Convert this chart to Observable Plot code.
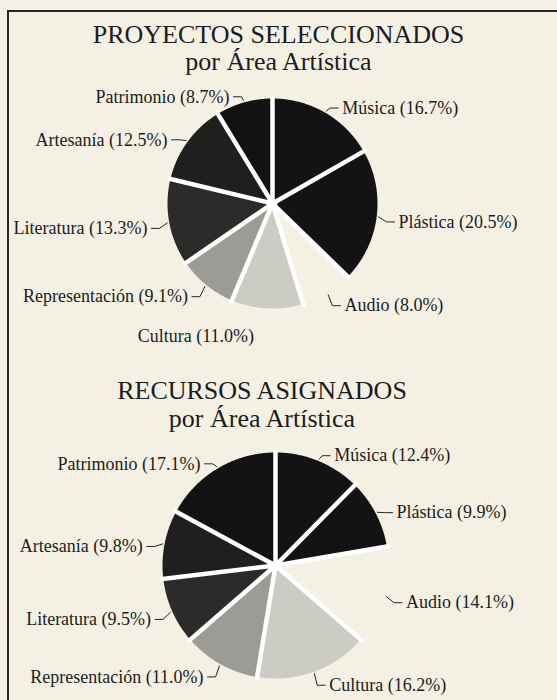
<!DOCTYPE html>
<html>
<head>
<meta charset="utf-8">
<script src="https://cdn.jsdelivr.net/npm/d3@7"></script>
<script src="https://cdn.jsdelivr.net/npm/@observablehq/plot@0.6"></script>
<style>
  html, body { margin: 0; padding: 0; background: #f4f1e4; }
  body { width: 557px; height: 700px; position: relative; overflow: hidden; font-family: "Liberation Serif", serif; }
  #frame { position: absolute; left: 7px; top: 10px; width: 600px; height: 760px;
           border-left: 2px solid #262626; border-top: 2px solid #262626; }
  .title { position: absolute; text-align: center; color: #1c1c1c; font-size: 26px; line-height: 27px; }
  #t1 { left: 0; width: 557px; top: 21px; }
  #t2 { left: 0; width: 524px; top: 377px; line-height: 28px; }
  .chart { position: absolute; left: 0; }
  .chart svg { overflow: visible; background: transparent; }
  #c1 { top: 76px; }
  #c2 { top: 436px; }
</style>
</head>
<body>
<div id="frame"></div>
<div class="title" id="t1">PROYECTOS SELECCIONADOS<br>por Área Artística</div>
<div class="chart" id="c1"></div>
<div class="title" id="t2">RECURSOS ASIGNADOS<br>por Área Artística</div>
<div class="chart" id="c2"></div>
<script>
// ---- data ----
const areas = ["Música", "Plástica", "Audio", "Cultura", "Representación", "Literatura", "Artesanía", "Patrimonio"];
const proyectos = [16.7, 20.5, 8.0, 11.0, 9.1, 13.3, 12.5, 8.7];
const recursos  = [12.4, 9.9, 14.1, 16.2, 11.0, 9.5, 9.8, 17.1];
// ---- style ----
const tonos = ["#131313", "#131313", "#f4f1e4", "#cdccc4", "#9c9b95", "#2b2b29", "#1f1f1e", "#121212"];

function pieChart(values, opts) {
  const {r, cx, cy, H, W = 557} = opts;
  const drop = 4; // labels sit slightly below their radial point
  const arcs = d3.pie().sort(null).value(d => d)(values);
  const slices = [], gaps = [], leaders = [], labels = [];
  arcs.forEach((a, i) => {
    const area = areas[i];
    slices.push({area, x: 0, y: 0});
    const n = Math.max(2, Math.ceil((a.endAngle - a.startAngle) / (Math.PI / 360)));
    for (let k = 0; k <= n; k++) {
      const t = a.startAngle + (a.endAngle - a.startAngle) * k / n;
      slices.push({area, x: r * Math.sin(t), y: r * Math.cos(t)});
    }
    gaps.push({x1: 0, y1: 0, x2: (r + 3) * Math.sin(a.startAngle), y2: (r + 3) * Math.cos(a.startAngle)});
    const m = (a.startAngle + a.endAngle) / 2;
    const s = Math.sin(m), c = Math.cos(m);
    const label = `${area} (${a.value.toFixed(1)}%)`;
    const p0 = {area, x: (r + 2) * s, y: (r + 2) * c};
    const dir = s > 0 ? 1 : -1;
    if (Math.abs(s) < 0.2) {
      labels.push({label, x: (r + 24) * s + 12 * dir, y: (r + 24) * c - drop, anchor: dir > 0 ? "start" : "end"});
    } else {
      const el = {area, x: (r + 10) * s, y: (r + 10) * c - drop};
      leaders.push(p0, el, {area, x: el.x + 8 * dir, y: el.y});
      labels.push({label, x: el.x + 12 * dir, y: el.y, anchor: dir > 0 ? "start" : "end"});
    }
  });
  const txt = (anchor) => Plot.text(labels.filter(d => d.anchor === anchor), {
    x: "x", y: "y", text: "label", textAnchor: anchor,
    fontSize: 18, fontFamily: "Liberation Serif", fill: "#1c1c1c"
  });
  return Plot.plot({
    width: W, height: H, margin: 0,
    x: {domain: [-cx, W - cx], axis: null},
    y: {domain: [cy - H, cy], axis: null},
    color: {domain: areas, range: tonos},
    style: {background: "transparent", overflow: "visible"},
    marks: [
      Plot.line(slices, {x: "x", y: "y", z: "area", fill: "area", stroke: "none"}),
      Plot.link(gaps, {x1: "x1", y1: "y1", x2: "x2", y2: "y2", stroke: "#ffffff", strokeWidth: 4.5}),
      Plot.dot([{x: 0, y: 0}], {x: "x", y: "y", r: 5, fill: "#ffffff"}),
      Plot.line(leaders, {x: "x", y: "y", z: "area", stroke: "#222", strokeWidth: 1}),
      txt("start"), txt("end")
    ]
  });
}

document.getElementById("c1").append(pieChart(proyectos, {r: 105, cx: 272, cy: 127, H: 284}));
document.getElementById("c2").append(pieChart(recursos, {r: 113, cx: 275, cy: 129, H: 264}));
</script>
</body>
</html>
